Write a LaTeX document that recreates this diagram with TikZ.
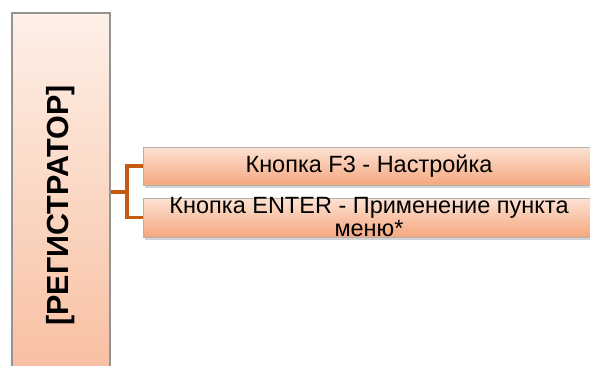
\documentclass[tikz,border=0pt]{standalone}
\usepackage{fontspec}
\setmainfont{Liberation Sans}
\usetikzlibrary{positioning,calc,shadows}

\definecolor{peachtop}{HTML}{FDF0E8}
\definecolor{peachbot}{HTML}{F8BC9C}
\definecolor{itemtop}{HTML}{FCE2D3}
\definecolor{itembot}{HTML}{F6A77F}
\definecolor{linkcol}{HTML}{C55A11}

\begin{document}
\begin{tikzpicture}[x=1pt,y=-1pt,
  regbox/.style={rectangle,draw=gray!85,line width=1.2pt,minimum width=98pt,minimum height=385pt,
    top color=peachtop,bottom color=peachbot,inner sep=0pt},
  itembox/.style={rectangle,draw=gray!60,line width=0.8pt,minimum width=452pt,inner sep=0pt,
    top color=itemtop,bottom color=itembot,
    drop shadow={opacity=0.35,shadow xshift=2pt,shadow yshift=-3pt}},
  itemtext/.style={align=center,inner sep=0pt,font=\fontsize{23.5}{23}\selectfont},
  link/.style={draw=linkcol,line width=3.8pt}]
\useasboundingbox (0,0) rectangle (590,365);
\clip (0,0) rectangle (590,365);
\node[regbox] (reg) at (61,205.5) {};
\node[rotate=90,font=\fontsize{30.5}{30}\bfseries\selectfont] (regtext) at (reg.center) {[РЕГИСТРАТОР]};
\node[itembox,minimum height=38pt] (b1) at (369,166) {};
\node[itemtext] (t1) at (b1.center) {Кнопка F3 - Настройка};
\node[itembox,minimum height=39pt] (b2) at (369,217.5) {};
\node[itemtext] (t2) at (b2.center) {Кнопка ENTER - Применение пункта\\меню*};
% fork
\coordinate (fork) at ($(b1.west)!.5!(b2.west)+(-16,0)$);
\draw[link] (b1.west) -- (b1.west -| fork) -- (b2.west -| fork) -- (b2.west);
\draw[link] (fork) -- (fork -| reg.east);
\end{tikzpicture}
\end{document}
